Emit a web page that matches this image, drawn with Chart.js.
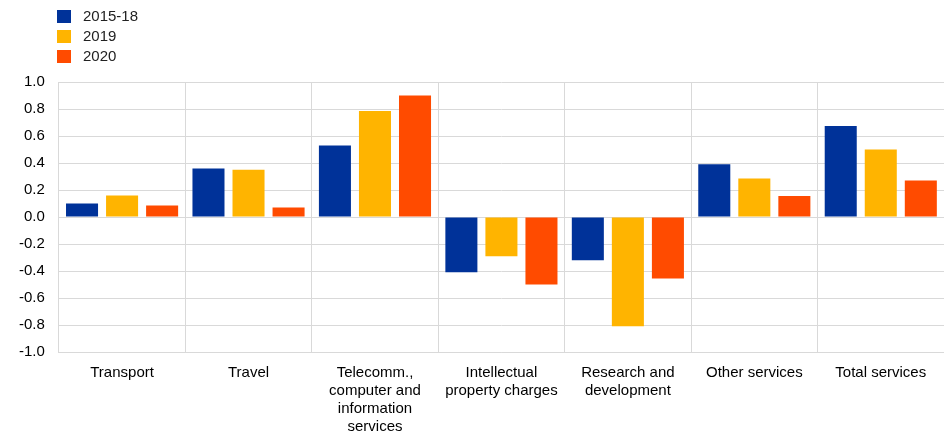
<!DOCTYPE html>
<html>
<head>
<meta charset="utf-8">
<script src="https://cdn.jsdelivr.net/npm/chart.js@4"></script>
<style>
  html, body { margin: 0; padding: 0; background: #fff; }
  #wrap { position: relative; width: 944px; height: 434px; }
  #legend { position: absolute; left: 57px; top: 6px; font: 15px "Liberation Sans", Arial, sans-serif; color: #222; }
  .row { height: 20px; line-height: 14px; display: flex; align-items: center; }
  .box { width: 14px; height: 13px; margin-right: 12px; }
</style>
</head>
<body>
<div id="wrap">
  <canvas id="chart"></canvas>
  <div id="legend"></div>
</div>
<script>
// categories (multi-line labels as the picture wraps them)
const categories = [
    'Transport',
    'Travel',
    ['Telecomm.,', 'computer and', 'information', 'services'],
    ['Intellectual', 'property charges'],
    ['Research and', 'development'],
    'Other services',
    'Total services'
];

const seriesNames = ['2015-18', '2019', '2020'];
const seriesColors = ['#003299', '#ffb400', '#ff4b00'];

// values
const values2015_18 = [0.10, 0.36, 0.53, -0.41, -0.32, 0.39, 0.675];
const values2019 = [0.16, 0.35, 0.785, -0.29, -0.81, 0.285, 0.50];
const values2020 = [0.085, 0.07, 0.90, -0.50, -0.455, 0.155, 0.27];

const yMin = -1.0, yMax = 1.0, yStep = 0.2;

const FONT = '"Liberation Sans", Arial, sans-serif';
const GRID = '#d9d9d9';

const seriesValues = [values2015_18, values2019, values2020];

const datasets = seriesNames.map((name, i) => ({
    label: name,
    data: seriesValues[i],
    backgroundColor: seriesColors[i],
    borderWidth: 0,
    categoryPercentage: 0.95,
    barPercentage: 0.8
}));

// legend vertical, as in the picture
const legend = document.getElementById('legend');
seriesNames.forEach((name, i) => {
    const row = document.createElement('div');
    row.className = 'row';
    row.innerHTML = '<span class="box" style="background:' + seriesColors[i] + '"></span>' + name;
    legend.appendChild(row);
});

new Chart(document.getElementById('chart'), {
    type: 'bar',
    data: { labels: categories, datasets: datasets },
    options: {
        responsive: true,
        maintainAspectRatio: false,
        animation: false,
        layout: { padding: { top: 82, left: 5, right: 0, bottom: -14 } },
        plugins: {
            legend: { display: false },
            tooltip: { enabled: false }
        },
        scales: {
            x: {
                grid: { color: GRID, drawTicks: false, offset: true },
                border: { color: GRID },
                ticks: {
                    color: '#000',
                    font: { family: FONT, size: 15, lineHeight: 1.2 },
                    padding: 12,
                    maxRotation: 0,
                    autoSkip: false
                }
            },
            y: {
                min: yMin,
                max: yMax,
                grid: { color: GRID, drawTicks: false },
                border: { color: GRID },
                ticks: {
                    stepSize: yStep,
                    color: '#000',
                    font: { family: FONT, size: 15 },
                    padding: 14,
                    callback: v => v.toFixed(1)
                }
            }
        }
    }
});
</script>
</body>
</html>
